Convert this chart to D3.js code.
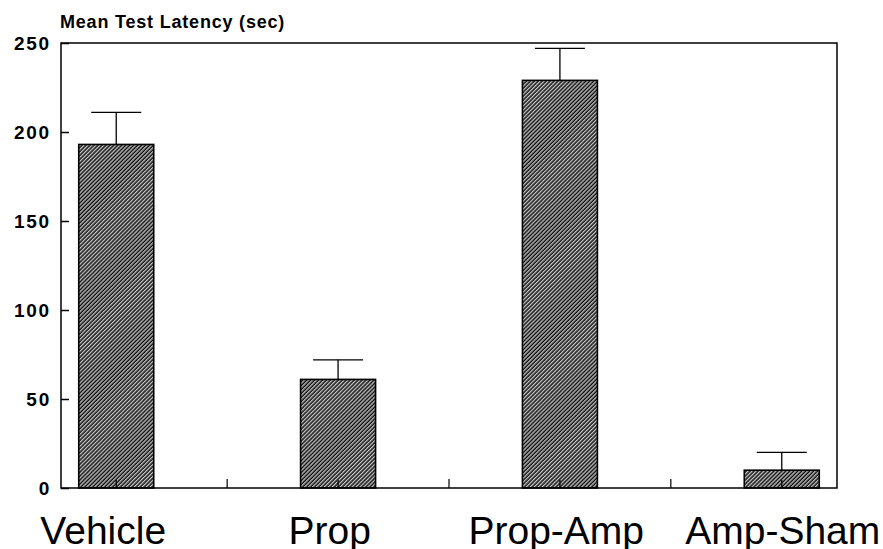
<!DOCTYPE html>
<html>
<head>
<meta charset="utf-8">
<script src="https://cdn.jsdelivr.net/npm/d3@7"></script>
<style>
  html, body { margin: 0; padding: 0; background: #fff; }
  svg { display: block; }
</style>
</head>
<body>
<svg id="chart" width="883" height="549"></svg>
<script>
const categories = ["Vehicle", "Prop", "Prop-Amp", "Amp-Sham"];
const meanValues = [193, 61, 229, 10];
const errorTops = [211, 72, 247, 20];
const yTicks = [0, 50, 100, 150, 200, 250];
const yTitle = "Mean Test Latency (sec)";

(function () {
const svg = d3.select("#chart");
const mLeft = 61, mRight = 837, mTop = 43, mBottom = 488;

const x = d3.scaleBand().domain(categories).range([mLeft, mRight])
  .paddingInner(0.662).paddingOuter(0.08);
const y = d3.scaleLinear().domain([0, 250]).range([mBottom, mTop]);
const cx = d => x(d) + x.bandwidth() / 2;
// label positions (slightly wider spread than the bars)
const xLab = d3.scalePoint().domain(categories)
  .range([cx(categories[0]) - 13, cx(categories[categories.length - 1]) + 1]);

const defs = svg.append("defs");
const pat = defs.append("pattern").attr("id", "hatch")
  .attr("patternUnits", "userSpaceOnUse").attr("width", 2.8).attr("height", 2.8)
  .attr("patternTransform", "rotate(45)");
pat.append("rect").attr("width", 2.8).attr("height", 2.8).attr("fill", "#fff");
pat.append("line").attr("x1", 1.2).attr("y1", 0).attr("x2", 1.2).attr("y2", 2.8)
  .attr("stroke", "#111").attr("stroke-width", 1.8);

// bars
svg.append("g").selectAll("rect").data(categories).join("rect")
  .attr("x", d => x(d)).attr("width", x.bandwidth())
  .attr("y", (d, i) => y(meanValues[i]))
  .attr("height", (d, i) => y(0) - y(meanValues[i]))
  .attr("fill", "url(#hatch)").attr("stroke", "#000").attr("stroke-width", 1.6);

// error bars
const eb = svg.append("g").attr("stroke", "#000").attr("stroke-width", 1.3);
eb.selectAll("line.v").data(categories).join("line").attr("class", "v")
  .attr("x1", cx).attr("x2", cx)
  .attr("y1", (d, i) => y(meanValues[i])).attr("y2", (d, i) => y(errorTops[i]));
eb.selectAll("line.c").data(categories).join("line").attr("class", "c")
  .attr("x1", d => cx(d) - 25).attr("x2", d => cx(d) + 25)
  .attr("y1", (d, i) => y(errorTops[i])).attr("y2", (d, i) => y(errorTops[i]));

// frame
svg.append("rect").attr("x", mLeft).attr("y", mTop)
  .attr("width", mRight - mLeft).attr("height", mBottom - mTop)
  .attr("fill", "none").attr("stroke", "#000").attr("stroke-width", 1.5);

// y axis
const yAxis = svg.append("g").attr("transform", `translate(${mLeft},0)`)
  .call(d3.axisRight(y).tickValues(yTicks).tickSize(8).tickFormat(d3.format("d")));
yAxis.select(".domain").remove();
yAxis.selectAll(".tick line").attr("stroke", "#000").attr("stroke-width", 1.5);
yAxis.selectAll(".tick text")
  .attr("x", -10).attr("text-anchor", "end").attr("dy", "0.36em")
  .attr("font-family", "Liberation Sans, Arial, sans-serif")
  .attr("font-weight", "bold").attr("font-size", 19)
  .attr("letter-spacing", 1.8).attr("fill", "#000");

// x axis: ticks at centers and midpoints
const xAxis = svg.append("g").attr("transform", `translate(0,${mBottom})`)
  .call(d3.axisTop(x).tickSize(8).tickFormat(""));
xAxis.select(".domain").remove();
xAxis.selectAll(".tick line").attr("stroke", "#000").attr("stroke-width", 1.2);
const mids = categories.slice(1).map((d, i) =>
  (x(categories[i]) + x(d) + x.bandwidth()) / 2);
svg.append("g").selectAll("line").data(mids).join("line")
  .attr("x1", d => d).attr("x2", d => d)
  .attr("y1", mBottom).attr("y2", mBottom - 9)
  .attr("stroke", "#000").attr("stroke-width", 1.2);

// x labels
svg.append("g").selectAll("text").data(categories).join("text")
  .attr("x", d => xLab(d)).attr("y", 544)
  .attr("text-anchor", "middle")
  .attr("font-family", "Liberation Sans, Arial, sans-serif")
  .attr("font-size", 39).attr("fill", "#000")
  .text(d => d);

// title
svg.append("text").attr("x", 60).attr("y", 28)
  .attr("font-family", "Liberation Sans, Arial, sans-serif")
  .attr("font-weight", "bold").attr("font-size", 18)
  .attr("letter-spacing", 0.8).attr("fill", "#000")
  .text(yTitle);
})();
</script>
</body>
</html>
